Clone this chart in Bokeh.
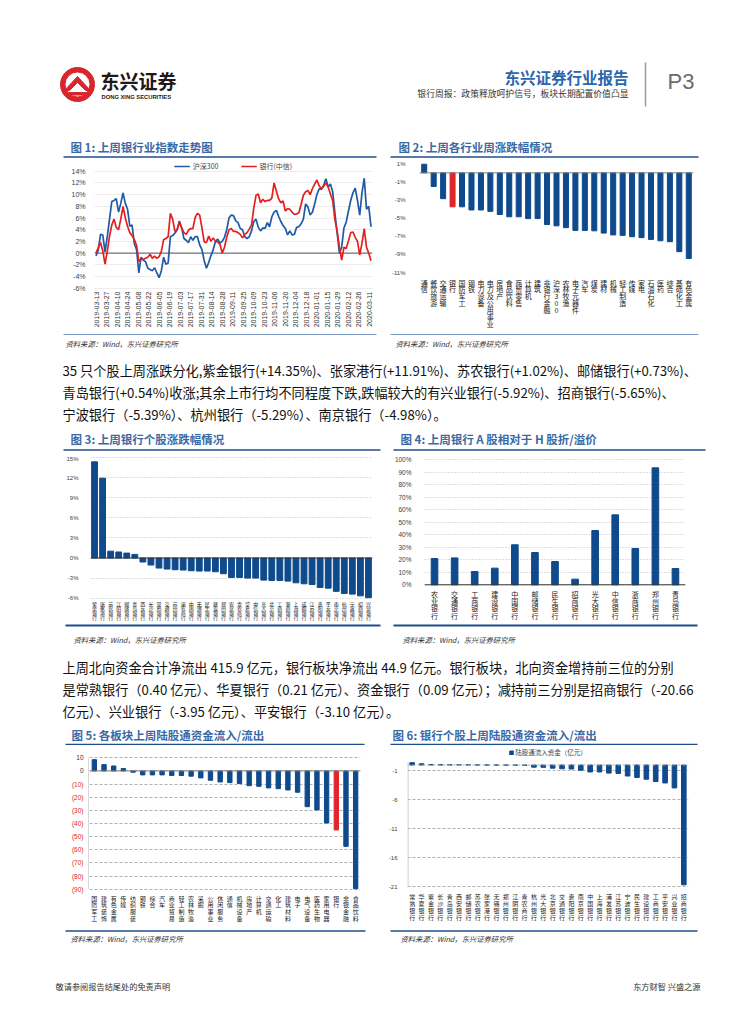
import math
import pandas as pd
from bokeh.plotting import figure
from bokeh.models import (Range1d, FactorRange, FixedTicker, Span, ColumnDataSource,
                          PrintfTickFormatter, Legend, LegendItem)
from bokeh.layouts import column, row
from bokeh.embed import file_html
from bokeh.resources import INLINE
from bokeh.core.properties import value

FONT = "Noto Sans CJK SC"
BAR_BLUE = "#0e4a8c"
BAR_RED = "#e0262b"
TITLE_BLUE = "#3a69a5"
RULE_BLUE = "#1f4e8c"

# ---------------- data ----------------
# Fig 1: cumulative change since 2019-03-13, sampled every 3 days
line_start = "2019-03-13"
hs300 = [
    -0.5, 0.5, 3.2, 3.1, 0.2, 2.8, 5.8, 8.8, 9.0, 9.3,
    7.0, 8.5, 10.3, 8.5, 7.5, 4.6, 4.8, 1.6, 0.6, -3.4,
    -0.7, -1.2, -1.5, -2.6, -2.8, -3.0, -2.5, -3.4, -4.2, -3.0,
    -0.7, -1.9, -1.7, 2.8, 3.0, 3.4, 4.0, 5.5, 4.3, 2.5,
    2.2, 1.8, 2.8, 2.2, 2.8, 2.8, 1.4, 0.6, -1.3, -2.6,
    -1.6, -0.4, 0.6, 2.0, 2.4, 1.7, 2.0, 2.7, 4.0, 6.0,
    6.5, 6.4, 5.5, 5.2, 4.2, 4.0, 2.8, 2.5, 2.8, 3.8,
    5.4, 5.8, 4.4, 3.8, 4.3, 4.2, 5.2, 4.5, 6.2, 7.0,
    7.3, 6.3, 5.4, 4.7, 4.2, 3.1, 3.8, 3.1, 3.2, 4.4,
    4.5, 5.0, 5.8, 8.4, 7.9, 6.5, 7.0, 8.4, 10.0, 11.0,
    10.9, 11.6, 12.7, 11.3, 11.8, 10.5, 6.8, 3.4, 0.0, 1.0,
    4.3, 5.3, 7.2, 9.0, 10.3, 11.1, 9.0, 6.5, 10.3, 12.8,
    7.5, 8.0, 4.5]
bank_citic = [
    0.0, 0.9, 1.8, 0.4, -1.9, 0.3, 2.9, 4.8, 5.8, 4.4,
    4.0, 5.8, 8.0, 6.0, 4.6, 3.5, 3.0, 2.3, 1.3, -1.4,
    -1.0, -1.1, -0.9, -0.7, -0.2, -0.9, -0.5, -0.9, -0.6, 0.3,
    2.3, 2.5, 2.8, 6.8, 5.8, 3.7, 4.0, 5.3, 4.3, 3.5,
    3.2, 3.9, 4.2, 4.2, 6.1, 6.8, 6.5, 4.3, 1.9, 1.8,
    2.9, 2.0, 2.6, 2.0, 1.9, 1.5, 0.0, 1.0, 2.7, 4.0,
    4.2, 3.7, 3.7, 3.5, 3.2, 2.6, 3.2, 3.5, 4.1, 4.8,
    7.7, 9.9, 10.1, 8.6, 9.2, 8.8, 9.0, 9.0, 9.4, 12.0,
    10.6, 9.3, 8.6, 8.9, 7.2, 7.6, 7.5, 7.0, 6.6, 6.7,
    6.9, 8.3, 9.9, 10.5, 10.7, 10.0, 11.0, 11.8, 12.5, 11.5,
    11.0, 11.4, 12.0, 11.3, 10.1, 9.0, 5.7, 3.7, 1.0, -1.2,
    1.0, 0.8, 2.1, 3.5, 3.6, 2.7, 2.0, -0.3, 1.7, 4.2,
    1.0, 0.0, -1.3]
date_ticks = ["2019-03-13", "2019-03-27", "2019-04-10", "2019-04-24", "2019-05-08",
              "2019-05-22", "2019-06-05", "2019-06-19", "2019-07-03", "2019-07-17",
              "2019-07-31", "2019-08-14", "2019-08-28", "2019-09-11", "2019-09-25",
              "2019-10-09", "2019-10-23", "2019-11-06", "2019-11-20", "2019-12-04",
              "2019-12-18", "2020-01-01", "2020-01-15", "2020-01-29", "2020-02-12",
              "2020-02-26", "2020-03-11"]
y1_ticks = [-6, -4, -2, 0, 2, 4, 6, 8, 10, 12, 14]

# Fig 2: weekly change by industry (%)
ind_names = ["通信", "餐饮旅游", "交通运输", "银行", "国防军工", "钢铁", "电力设备", "电力及公用事业",
             "房地产", "食品饮料", "商贸零售", "计算机", "建筑", "非银行金融", "沪深300", "农林牧渔",
             "电子元器件", "汽车", "煤炭", "建材", "机械", "轻工制造", "传媒", "家电", "石油石化",
             "医药", "综合", "基础化工", "有色金属"]
ind_chg = [0.95, -1.5, -2.85, -3.75, -3.75, -4.1, -4.1, -4.25, -4.6, -4.85, -4.85, -5.05, -5.05,
           -5.7, -5.85, -6.05, -6.35, -6.35, -6.4, -6.65, -6.85, -6.9, -7.05, -7.15, -7.35,
           -7.5, -7.6, -8.7, -9.45]
y2_ticks = [1, -1, -3, -5, -7, -9, -11]

# Fig 3: weekly change by bank (%)
bank_names = ["紫金银行", "张家港行", "苏农银行", "江阴银行", "邮储银行", "青岛银行", "西安银行",
              "长沙银行", "常熟银行", "交通银行", "苏州银行", "渝农商行", "中国银行", "无锡银行",
              "民生银行", "建设银行", "郑州银行", "农业银行", "青农商行", "华夏银行", "中信银行",
              "光大银行", "北京银行", "工商银行", "浙商银行", "上海银行", "成都银行", "江苏银行",
              "贵阳银行", "平安银行", "南京银行", "杭州银行", "宁波银行", "招商银行", "兴业银行"]
bank_chg = [14.35, 11.91, 1.02, 0.90, 0.73, 0.54, -0.60, -1.05, -1.50, -1.65, -1.75, -1.80,
            -1.90, -1.95, -1.95, -2.05, -2.35, -2.90, -2.90, -3.00, -3.00, -3.30, -3.35, -3.35,
            -3.45, -3.70, -3.85, -3.95, -4.40, -4.50, -4.98, -5.29, -5.39, -5.65, -5.92]
y3_ticks = [-6, -3, 0, 3, 6, 9, 12, 15]

# Fig 4: A-share premium over H-share (%)
ah_names = ["农业银行", "交通银行", "工商银行", "建设银行", "中国银行", "邮储银行", "民生银行",
            "招商银行", "光大银行", "中信银行", "浙商银行", "郑州银行", "青岛银行"]
ah_prem = [21.0, 21.5, 10.6, 13.3, 32.0, 25.8, 18.6, 4.5, 43.4, 55.9, 29.0, 93.5, 13.0]
y4_ticks = [0, 10, 20, 30, 40, 50, 60, 70, 80, 90, 100]

# Fig 5: northbound flow by sector (100m CNY)
sector_names = ["国防军工", "建筑装饰", "有色金属", "传媒", "纺织服装", "钢铁", "综合", "汽车",
                "商业贸易", "轻工制造", "农林牧渔", "采掘", "公用事业", "休闲服务", "通信",
                "机械设备", "房地产", "计算机", "交通运输", "化工", "建筑材料", "电子",
                "电气设备", "医药生物", "家用电器", "银行", "非银金融", "食品饮料"]
sector_flow = [8.6, 4.8, 3.8, 1.8, -1.0, -3.0, -3.0, -3.0, -3.5, -3.5, -4.0, -5.3, -7.1, -8.4,
               -8.9, -9.6, -11.2, -11.7, -12.9, -13.5, -14.5, -16.2, -27.2, -29.7, -39.6,
               -44.9, -57.4, -89.6]
y5_ticks = [10, 0, -10, -20, -30, -40, -50, -60, -70, -80, -90]

# Fig 6: northbound flow by bank (100m CNY)
stock_names = ["常熟银行", "华夏银行", "紫金银行", "长沙银行", "青岛银行", "西安银行", "邮储银行",
               "苏农银行", "张家港行", "无锡银行", "郑州银行", "江阴银行", "青农商行", "杭州银行",
               "光大银行", "北京银行", "交通银行", "贵阳银行", "南京银行", "中国银行", "上海银行",
               "浦发银行", "江苏银行", "宁波银行", "民生银行", "建设银行", "工商银行", "平安银行",
               "兴业银行", "招商银行"]
stock_flow = [0.40, 0.21, 0.09, 0.06, 0.05, 0.04, 0.03, 0.02, 0.01, -0.01, -0.02, -0.03, -0.05,
              -0.37, -0.40, -0.55, -0.65, -0.70, -0.90, -1.20, -1.20, -1.40, -1.45, -1.90,
              -2.15, -2.45, -2.85, -3.10, -3.95, -20.66]
y6_ticks = [-1, -6, -11, -16, -21]

# ---------------- text ----------------
para1 = ["35 只个股上周涨跌分化,紫金银行(+14.35%)、张家港行(+11.91%)、苏农银行(+1.02%)、邮储银行(+0.73%)、",
         "青岛银行(+0.54%)收涨;其余上市行均不同程度下跌,跌幅较大的有兴业银行(-5.92%)、招商银行(-5.65%)、",
         "宁波银行（-5.39%）、杭州银行（-5.29%）、南京银行（-4.98%）。"]
para2 = ["上周北向资金合计净流出 415.9 亿元，银行板块净流出 44.9 亿元。银行板块，北向资金增持前三位的分别",
         "是常熟银行（0.40 亿元）、华夏银行（0.21 亿元）、资金银行（0.09 亿元）；减持前三分别是招商银行（-20.66",
         "亿元）、兴业银行（-3.95 亿元）、平安银行（-3.10 亿元）。"]
titles = ["图 1: 上周银行业指数走势图", "图 2: 上周各行业周涨跌幅情况",
          "图 3: 上周银行个股涨跌幅情况", "图 4: 上周银行 A 股相对于 H 股折/溢价",
          "图 5: 各板块上周陆股通资金流入/流出", "图 6: 银行个股上周陆股通资金流入/流出"]
source = "资料来源：Wind，东兴证券研究所"

W = 755
XL = 385  # split between left and right chart columns


def page_fig(h):
    p = figure(width=W, height=h, x_range=Range1d(0, W), y_range=Range1d(h, 0),
               output_backend="svg", toolbar_location=None, min_border=0,
               x_axis_type=None, y_axis_type=None)
    p.outline_line_color = None
    return p


def txt(p, top, X, Y, s, size, color="#000000", style="normal", align="left", font=FONT):
    p.text(x=[X], y=[Y - top], text=[s], text_font=value(font),
           text_font_size=f"{size}px", text_color=color, text_align=align,
           text_baseline="middle", text_font_style=style)


def hline(p, top, X0, X1, Y, color=RULE_BLUE, w=1.0):
    p.segment(x0=[X0], y0=[Y - top], x1=[X1], y1=[Y - top], line_color=color, line_width=w)


def stack(s):
    return "\n".join(list(s))


def vmap(ref, ctop, cbot):
    """ref = (value_a, page_y_a, value_b, page_y_b); returns y-range and a page-y -> value fn"""
    va, pa, vb, pb = ref
    k = (pb - pa) / (va - vb)
    rng = (vb - (cbot - pb) / k, va + (pa - ctop) / k)
    return rng, (lambda py: va - (py - pa) / k)


def style_yaxis(p, ticks, fmt, size, standoff):
    ya = p.yaxis[0]
    ya.ticker = FixedTicker(ticks=ticks)
    ya.formatter = PrintfTickFormatter(format=fmt)
    ya.axis_line_color = None
    ya.major_tick_line_color = None
    ya.minor_tick_line_color = None
    ya.major_label_text_font = "Liberation Sans"
    ya.major_label_text_font_size = size
    ya.major_label_text_color = "#404040"
    ya.major_label_standoff = standoff


def bar_chart(width, ctop, cbot, names, vals, colors, ref, lab_top, ticks, fmt, left, right,
              lab_size, lab_lh, tick_size, bar_w, standoff, y_axis=True):
    rng, at = vmap(ref, ctop, cbot)
    p = figure(width=width, height=cbot - ctop, x_range=FactorRange(factors=names),
               y_range=Range1d(*rng), output_backend="svg", toolbar_location=None,
               x_axis_location=None, y_axis_location="left" if y_axis else None,
               min_border_left=left, min_border_right=right, min_border_top=0, min_border_bottom=0)
    p.outline_line_color = None
    p.xgrid.visible = False
    p.ygrid.ticker = FixedTicker(ticks=ticks)
    src = ColumnDataSource(dict(x=names, top=vals, color=colors))
    r = p.vbar(x="x", top="top", width=bar_w, color="color", source=src)
    p.text(x=names, y=[at(lab_top)] * len(names), text=[stack(n) for n in names],
           text_font=value(FONT), text_font_size=lab_size, text_line_height=lab_lh,
           text_color="#1a1a1a", text_align="center", text_baseline="top")
    if y_axis:
        style_yaxis(p, ticks, fmt, tick_size, standoff)
    return p, r, rng


# ---------------- page top (page y 0..160) ----------------
top = page_fig(160)
top.annulus(x=[77], y=[84], inner_radius=12.5, outer_radius=17, color="#d8262c")
top.patch(x=[64, 77, 90, 85, 77, 69], y=[90, 76, 90, 90, 82, 90], color="#d8262c")
top.patch(x=[68, 86, 86, 68], y=[92, 92, 94.5, 94.5], color="#d8262c")
txt(top, 0, 100, 80, "东兴证券", 19, "#231815", "bold")
txt(top, 0, 101, 96, "DONG XING SECURITIES", 5.8, "#231815", "bold", font="Liberation Sans")
txt(top, 0, 628, 76, "东兴证券行业报告", 15.5, "#2b67ad", "bold", "right")
txt(top, 0, 628, 93, "银行周报：政策释放呵护信号，板块长期配置价值凸显", 8.8, "#333333", "normal", "right")
top.segment(x0=[645], y0=[62], x1=[645], y1=[106], line_color="#9a9a9a", line_width=1.5)
txt(top, 0, 667, 81, "P3", 22, "#6b6b6b", "normal", font="Liberation Sans")
txt(top, 0, 70, 146, titles[0], 11.5, TITLE_BLUE, "bold")
txt(top, 0, 398, 146, titles[1], 11.5, TITLE_BLUE, "bold")
hline(top, 0, 63, 376, 156.5, RULE_BLUE, 1.5)
hline(top, 0, 390, 698, 156.5, RULE_BLUE, 1.5)

# ---------------- chart 1 (page y 160..332) ----------------
R1T, R1B = 160, 332
rng1, at1 = vmap((14, 170.7, -6, 287.7), R1T, R1B)
dates = pd.date_range(line_start, periods=len(hs300), freq="3D")
s1 = ColumnDataSource(dict(d=dates, hs=hs300, bk=bank_citic))
x0 = pd.Timestamp(line_start) - pd.Timedelta(days=2)
x1 = dates[-1] + pd.Timedelta(days=2)
c1 = figure(width=XL, height=R1B - R1T, x_axis_type="datetime", x_range=Range1d(x0, x1),
            y_range=Range1d(*rng1), output_backend="svg", toolbar_location=None,
            x_axis_location=None, min_border_left=94, min_border_right=13,
            min_border_top=0, min_border_bottom=0)
c1.outline_line_color = None
c1.xgrid.visible = False
c1.ygrid.ticker = FixedTicker(ticks=y1_ticks)
c1.ygrid.grid_line_color = "#ececec"
c1.add_layout(Span(location=0, dimension="width", line_color="#555555", line_width=1, level="underlay"))
c1.line("d", "hs", source=s1, line_color="#1f5aa6", line_width=1.7, legend_label="沪深300")
c1.line("d", "bk", source=s1, line_color="#e3201f", line_width=1.7, legend_label="银行(中信)")
c1.text(x=pd.to_datetime(date_ticks), y=[at1(291)] * len(date_ticks), text=date_ticks,
        angle=math.pi / 2, text_font=value("Liberation Sans"), text_font_size="7px",
        text_color="#333333", text_align="right", text_baseline="middle")
style_yaxis(c1, y1_ticks, "%d%%", "7px", 3)
lg = c1.legend[0]
lg.location = "top_center"
lg.orientation = "horizontal"
lg.label_text_font = FONT
lg.label_text_font_size = "7px"
lg.glyph_width = 16
lg.glyph_height = 6
lg.spacing = 22
lg.padding = 0
lg.margin = 1
lg.label_standoff = 3
lg.border_line_color = None
lg.background_fill_alpha = 0

# ---------------- chart 2 ----------------
c2_colors = [BAR_RED if n == "银行" else BAR_BLUE for n in ind_names]
c2, _, _ = bar_chart(W - XL, R1T, R1B, ind_names, ind_chg, c2_colors, (1, 163.3, -11, 272), 277,
                     y2_ticks, "%d%%", 34, 62, "7px", 0.69, "6px", 0.53, 8)
c2.ygrid.visible = False
c2.add_layout(Span(location=0, dimension="width", line_color="#7f7f7f", line_width=1))

# ---------------- mid 1 (page y 332..455) ----------------
M1 = 332
mid1 = page_fig(123)
hline(mid1, M1, 63, 376, 334, "#5a7fb0", 0.8)
hline(mid1, M1, 390, 698, 334, "#5a7fb0", 0.8)
txt(mid1, M1, 65, 343, source, 7.3, "#333333", "italic")
txt(mid1, M1, 395, 343, source, 7.3, "#333333", "italic")
for i, s in enumerate(para1):
    txt(mid1, M1, 62, 370 + 22 * i, s, 13.2, "#111111")
txt(mid1, M1, 70, 438, titles[2], 11.5, TITLE_BLUE, "bold")
txt(mid1, M1, 400, 438, titles[3], 11.5, TITLE_BLUE, "bold")
hline(mid1, M1, 63, 380, 449.5, RULE_BLUE, 1.5)
hline(mid1, M1, 393, 705, 449.5, RULE_BLUE, 1.5)

# ---------------- charts 3 & 4 (page y 455..622) ----------------
R2T, R2B = 455, 622
c3, _, _ = bar_chart(XL, R2T, R2B, bank_names, bank_chg, [BAR_BLUE] * len(bank_names),
                     (15, 457, -6, 597.7), 599, y3_ticks, "%d%%", 90, 13, "5px", 0.69, "6px", 0.72, 6)
c3.ygrid.grid_line_color = "#bdbdbd"
c3.ygrid.grid_line_dash = "1 2"
c3.add_layout(Span(location=0, dimension="width", line_color="#333333", line_width=1))

c4, _, _ = bar_chart(W - XL, R2T, R2B, ah_names, ah_prem, [BAR_BLUE] * len(ah_names),
                     (100, 459.2, 0, 584.3), 588, y4_ticks, "%d%%", 39, 70, "7px", 0.74, "6.5px", 0.33, 7)
c4.ygrid.grid_line_color = "#bdbdbd"
c4.ygrid.grid_line_dash = "1 2"
c4.add_layout(Span(location=0, dimension="width", line_color="#333333", line_width=1))

# ---------------- mid 2 (page y 622..745) ----------------
M2 = 622
mid2 = page_fig(123)
hline(mid2, M2, 65, 380, 625, RULE_BLUE, 2)
hline(mid2, M2, 393, 697, 625, RULE_BLUE, 2)
txt(mid2, M2, 73, 639, source, 7.3, "#333333", "italic")
txt(mid2, M2, 402, 639, source, 7.3, "#333333", "italic")
for i, s in enumerate(para2):
    txt(mid2, M2, 62, 667 + 22 * i, s, 13.2, "#111111")
txt(mid2, M2, 71, 734, titles[4], 11.5, TITLE_BLUE, "bold")
txt(mid2, M2, 392, 734, titles[5], 11.5, TITLE_BLUE, "bold")
hline(mid2, M2, 65, 364, 744, RULE_BLUE, 1.5)
hline(mid2, M2, 390, 697, 744, RULE_BLUE, 1.5)

# ---------------- chart 5 (labels figure + bars), page y 745..928 ----------------
R3T, R3B = 745, 928
LAB5_W = 89
c5_colors = [BAR_RED if n == "银行" else BAR_BLUE for n in sector_names]
c5, _, rng5 = bar_chart(XL - LAB5_W, R3T, R3B, sector_names, sector_flow, c5_colors,
                        (10, 757.3, -90, 888.7), 893, y5_ticks, "%d", 0, 25, "6px", 0.75,
                        "6px", 0.45, 4, y_axis=False)
c5.ygrid.grid_line_color = "#b0b0b0"
c5.ygrid.grid_line_dash = "3 2"
c5.add_layout(Span(location=0, dimension="width", line_color="#7f7f7f", line_width=1))
lab5 = figure(width=LAB5_W, height=R3B - R3T, x_range=Range1d(0, LAB5_W),
              y_range=Range1d(*rng5), output_backend="svg", toolbar_location=None,
              min_border=0, x_axis_type=None, y_axis_type=None)
lab5.outline_line_color = None
lab5_text = [str(v) if v >= 0 else f"({-v})" for v in y5_ticks]
lab5_color = ["#333333" if v >= 0 else "#e8202a" for v in y5_ticks]
lab5.text(x=[LAB5_W - 6] * len(y5_ticks), y=y5_ticks, text=lab5_text, text_color=lab5_color,
          text_font=value("Liberation Sans"), text_font_size="6.5px", text_align="right",
          text_baseline="middle")
lab5.segment(x0=[LAB5_W - 0.6], y0=[y5_ticks[-1]], x1=[LAB5_W - 0.6], y1=[y5_ticks[0]],
             line_color="#bfbfbf", line_width=1)

# ---------------- chart 6 ----------------
c6, r6, _ = bar_chart(W - XL, R3T, R3B, stock_names, stock_flow, [BAR_BLUE] * len(stock_names),
                      (0, 764.5, -21, 886.3), 891.5, y6_ticks, "%d", 17, 67, "6px", 0.76,
                      "6px", 0.49, 4)
c6.ygrid.grid_line_color = "#b0b0b0"
c6.ygrid.grid_line_dash = "3 2"
c6.add_layout(Span(location=0, dimension="width", line_color="#b0b0b0", line_width=1, line_dash="3 2"))
c6.segment(x0=[0.05], y0=[y6_ticks[-1]], x1=[0.05], y1=[0.5], line_color="#bfbfbf", line_width=1)
leg6 = Legend(items=[LegendItem(label="陆股通流入资金（亿元）", renderers=[r6])],
              location="top_center", label_text_font=FONT, label_text_font_size="6.5px",
              glyph_width=5, glyph_height=5, padding=0, margin=2, label_standoff=2,
              border_line_color=None, background_fill_alpha=0)
c6.add_layout(leg6)

# ---------------- bottom (page y 928..1024) ----------------
B0 = 928
bot = page_fig(96)
hline(bot, B0, 65, 365, 930.5, RULE_BLUE, 1.5)
hline(bot, B0, 390, 697, 930.5, RULE_BLUE, 1.5)
txt(bot, B0, 70, 938, source, 7.3, "#333333", "italic")
txt(bot, B0, 400, 938, source, 7.3, "#333333", "italic")
txt(bot, B0, 55, 985, "敬请参阅报告结尾处的免责声明", 8.2, "#333333")
txt(bot, B0, 700, 985, "东方财智 兴盛之源", 8.2, "#333333", "normal", "right")

layout = column(top, row(c1, c2), mid1, row(c3, c4), mid2, row(lab5, c5, c6), bot)
open("out.html", "w").write(file_html(layout, INLINE))
